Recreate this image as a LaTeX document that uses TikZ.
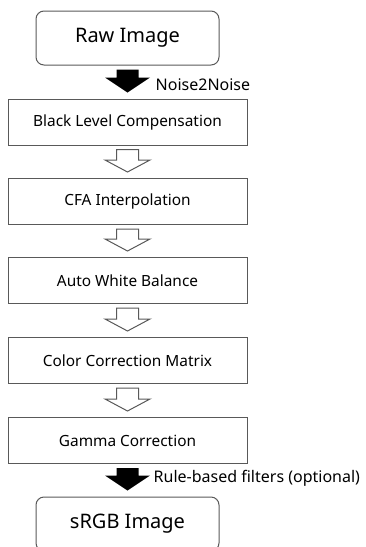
\documentclass[tikz,border=0pt]{standalone}
\usepackage{fontspec}
\setmainfont{Noto Sans}
\usetikzlibrary{calc}

% block arrow from the bottom of one node to the top of the next
\newcommand{\blockarrow}[4]{%
    \path[#3]
        ($(#1.south)+(-11,4)$) -- ($(#1.south)+(11,4)$) --
        ($(#2.north)+(11,-#4)$) -- ($(#2.north)+(22.5,-#4)$) --
        ($(#2.north)+(0,-6)$) --
        ($(#2.north)+(-22.5,-#4)$) -- ($(#2.north)+(-11,-#4)$) -- cycle;
}

\begin{document}
\begin{tikzpicture}
    [
        x=1pt, y=-1pt,
        procbox/.style = {
                draw=black!65,
                line width=1pt,
                rectangle,
                minimum width=239pt,
                minimum height=46pt,
                font=\fontsize{15.4}{18}\selectfont
            },
        imgbox/.style = {
                draw=black!65,
                line width=1pt,
                rectangle,
                rounded corners=8pt,
                minimum width=183pt,
                minimum height=54pt,
                font=\fontsize{20}{24}\selectfont
            },
        solidarrow/.style = {fill=black},
        hollowarrow/.style = {draw=black!65, line width=1pt, fill=white, line join=miter},
        steplabel/.style = {anchor=west, inner sep=0pt,
                font=\fontsize{16}{19}\selectfont},
    ]

    \useasboundingbox (0,0) rectangle (366,547);

    \node [imgbox] (raw) at (127.5,38) {Raw Image};

    \node [procbox] (blc) at (127.5,122)   {Black Level Compensation};
    \node [procbox] (cfa) at (127.5,201.5) {CFA Interpolation};
    \node [procbox] (awb) at (127.5,280.5) {Auto White Balance};
    \node [procbox] (ccm) at (127.5,360.5) {Color Correction Matrix};
    \node [procbox] (gamma) at (127.5,440.5) {Gamma Correction};

    \node [imgbox] (srgb) at (127.5,524) {sRGB Image};

    % connectors
    \blockarrow{raw}{blc}{solidarrow}{21}
    \foreach \a/\b in {blc/cfa, cfa/awb, awb/ccm, ccm/gamma} {
        \blockarrow{\a}{\b}{hollowarrow}{18}
    }
    \blockarrow{gamma}{srgb}{solidarrow}{21}

    \node [steplabel] (nnlabel) at ($(raw.south)+(28,19)$) {Noise2Noise};
    \node [steplabel] (rblabel) at ($(gamma.south)+(26,14)$) {Rule-based filters (optional)};

\end{tikzpicture}
\end{document}
